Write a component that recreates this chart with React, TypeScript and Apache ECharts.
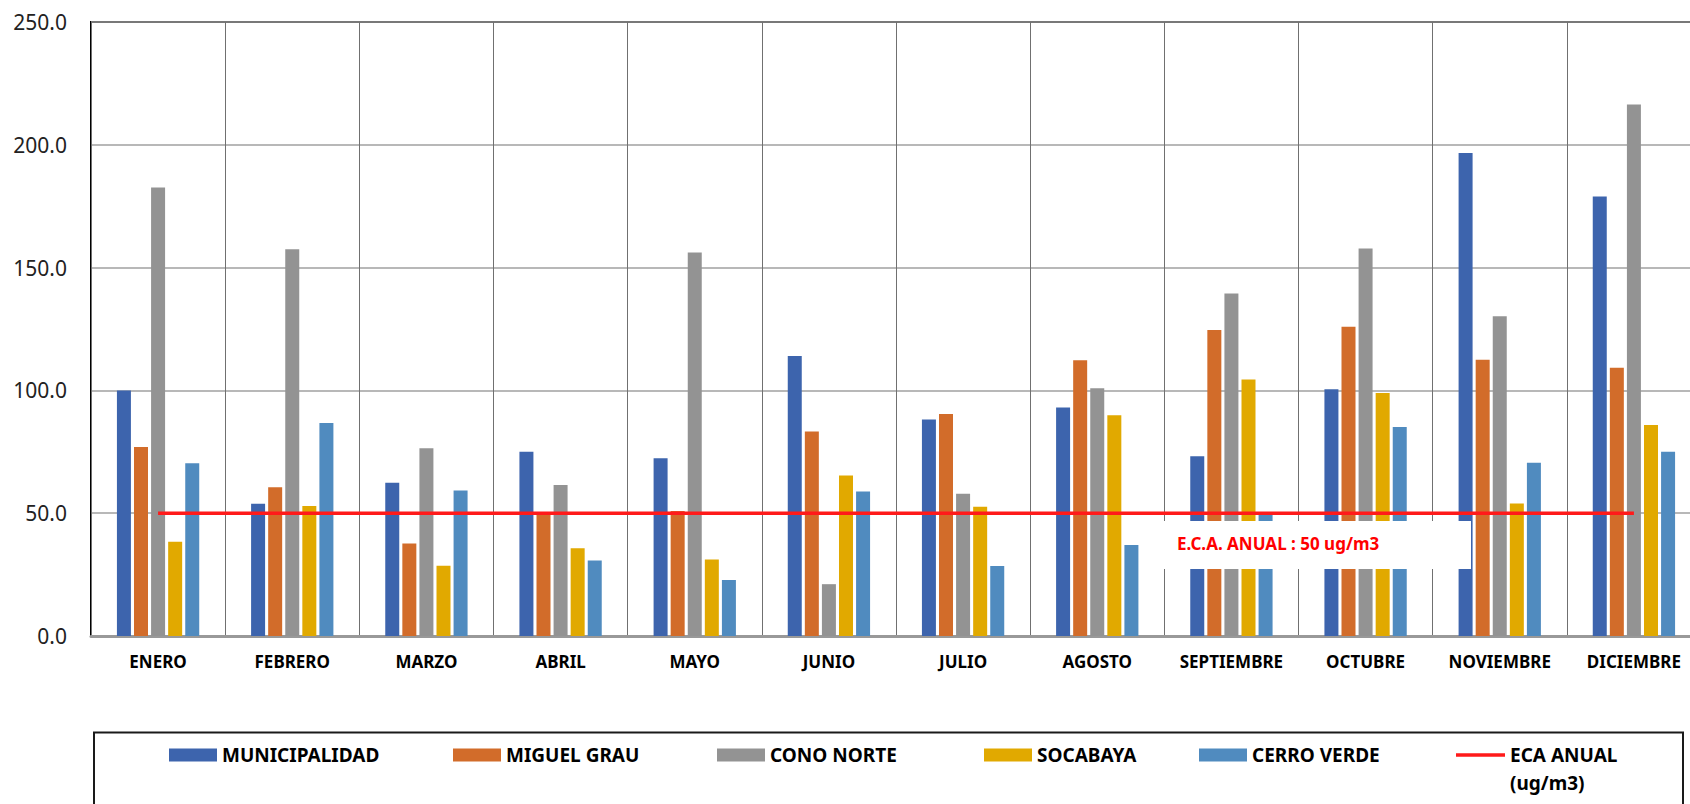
import React, { useEffect, useRef } from "react";
import * as echarts from "echarts";

const months = ["ENERO", "FEBRERO", "MARZO", "ABRIL", "MAYO", "JUNIO", "JULIO", "AGOSTO", "SEPTIEMBRE", "OCTUBRE", "NOVIEMBRE", "DICIEMBRE"];
const municipalidad = [100.0, 53.8, 62.4, 75.0, 72.4, 114.0, 88.2, 93.0, 73.2, 100.5, 196.7, 179.0];
const miguelGrau = [77.0, 60.6, 37.7, 50.0, 50.9, 83.3, 90.4, 112.3, 124.6, 125.9, 112.5, 109.2];
const conoNorte = [182.6, 157.5, 76.4, 61.5, 156.1, 21.1, 57.9, 100.9, 139.5, 157.8, 130.2, 216.4];
const socabaya = [38.4, 52.9, 28.6, 35.7, 31.1, 65.4, 52.6, 89.9, 104.4, 98.9, 54.0, 85.9];
const cerroVerde = [70.3, 86.7, 59.2, 30.7, 22.8, 58.8, 28.5, 37.1, 49.5, 85.1, 70.5, 75.0];
const ecaAnual = [50, 50, 50, 50, 50, 50, 50, 50, 50, 50, 50, 50];
const yTicks = { min: 0, max: 250, interval: 50 };

const barSeries = [
  { name: "MUNICIPALIDAD", data: municipalidad, color: "#3D64AD" },
  { name: "MIGUEL GRAU", data: miguelGrau, color: "#D26C2A" },
  { name: "CONO NORTE", data: conoNorte, color: "#939393" },
  { name: "SOCABAYA", data: socabaya, color: "#E1A900" },
  { name: "CERRO VERDE", data: cerroVerde, color: "#508BBF" },
];
const ECA_NAME = "ECA ANUAL (ug/m3)";
const legendLefts = [169, 453, 717, 984, 1199, 1456];

const FONT = "'Noto Sans', 'DejaVu Sans', sans-serif";

export default function App() {
  const ref = useRef<HTMLDivElement>(null);
  useEffect(() => {
    if (!ref.current) return;
    const chart = echarts.init(ref.current, null, { renderer: "svg" });
    const legendText = { fontFamily: FONT, fontWeight: "bold", fontSize: 19, color: "#000", lineHeight: 28 };
    const legends: any[] = barSeries.map((s, i) => ({
      data: [{ name: s.name, icon: "rect" }],
      left: legendLefts[i],
      top: 741,
      padding: 0,
      itemWidth: 48,
      itemHeight: 13,
      selectedMode: false,
      textStyle: legendText,
    }));
    legends.push({
      data: [{ name: ECA_NAME, icon: "rect" }],
      left: legendLefts[5],
      top: 713,
      padding: 0,
      itemWidth: 49,
      itemHeight: 3.5,
      selectedMode: false,
      formatter: () => "{e| }\n{t|ECA ANUAL}\n{t|(ug/m3)}",
      textStyle: {
        ...legendText,
        rich: {
          e: { fontSize: 19, lineHeight: 28 },
          t: { fontFamily: FONT, fontWeight: "bold", fontSize: 19, color: "#000", lineHeight: 28 },
        },
      },
    });
    chart.setOption({
      animation: false,
      backgroundColor: "#fff",
      grid: {
        left: 91,
        top: 22,
        width: 1610,
        height: 614,
        show: true,
        borderColor: "#000",
        borderWidth: 2,
        containLabel: false,
        outerBoundsMode: "none",
      },
      legend: legends,
      xAxis: {
        type: "category",
        data: months,
        boundaryGap: true,
        axisTick: { show: false },
        axisLine: { show: true, lineStyle: { color: "#999", width: 3 } },
        axisLabel: {
          interval: 0,
          margin: 15,
          fontFamily: FONT,
          fontWeight: "bold",
          fontSize: 17,
          lineHeight: 20,
          color: "#000",
        },
        splitLine: { show: true, interval: 0, lineStyle: { color: "#707070", width: 1 } },
      },
      yAxis: {
        type: "value",
        min: yTicks.min,
        max: yTicks.max,
        interval: yTicks.interval,
        axisLine: { show: false },
        axisTick: { show: false },
        axisLabel: {
          margin: 24,
          fontFamily: FONT,
          fontSize: 21,
          color: "#222",
          formatter: (v: number) => v.toFixed(1),
        },
        splitLine: { show: true, lineStyle: { color: "#a0a0a0", width: 1.5 } },
      },
      series: [
        ...barSeries.map((s) => ({
          name: s.name,
          type: "bar",
          data: s.data,
          barWidth: 14,
          barGap: "22%",
          itemStyle: { color: s.color },
        })),
        {
          name: ECA_NAME,
          type: "line",
          data: ecaAnual,
          showSymbol: false,
          symbol: "none",
          z: 5,
          lineStyle: { color: "#FF1A1A", width: 3.5 },
          itemStyle: { color: "#FF1A1A" },
        },
      ],
      graphic: [
        {
          type: "rect",
          z: 100,
          shape: { x: 1160, y: 521, width: 311, height: 48 },
          style: { fill: "#fff" },
        },
        {
          type: "text",
          z: 101,
          x: 1177,
          y: 543,
          style: {
            text: "E.C.A. ANUAL : 50 ug/m3",
            fill: "#FF0000",
            font: `bold 17px ${FONT}`,
            verticalAlign: "middle",
          },
        },
        {
          type: "rect",
          z: 100,
          shape: { x: 94, y: 732.5, width: 1589, height: 120 },
          style: { fill: "none", stroke: "#1a1a1a", lineWidth: 2 },
        },
      ],
    });
    return () => chart.dispose();
  }, []);
  return (
    <div
      ref={ref}
      style={{ position: "fixed", left: 0, top: 0, width: "1690px", height: "804px", background: "#fff" }}
    />
  );
}
